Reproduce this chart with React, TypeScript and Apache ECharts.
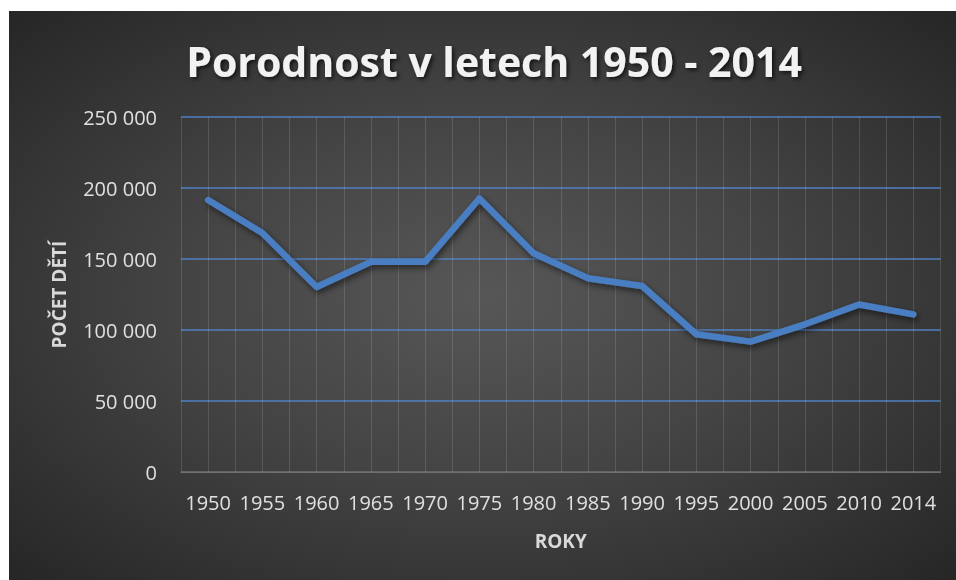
import React, { useEffect, useRef } from "react";
import * as echarts from "echarts";

const years = ["1950", "1955", "1960", "1965", "1970", "1975", "1980", "1985", "1990", "1995", "2000", "2005", "2010", "2014"];
const births = [191500, 168300, 130300, 148000, 148000, 192600, 154000, 136500, 131000, 97000, 91800, 104000, 118000, 111000];
const yTicks = { min: 0, max: 250000, interval: 50000 };
const titleText = "Porodnost v letech 1950 - 2014";
const yName = "POČET DĚTÍ";
const xName = "ROKY";

const FONT = "'Open Sans', 'DejaVu Sans', sans-serif";

export default function App() {
  const ref = useRef<HTMLDivElement>(null);
  useEffect(() => {
    if (!ref.current) return;
    const chart = echarts.init(ref.current, undefined, { renderer: "svg" });
    const halfSteps = years.length * 2;
    chart.setOption({
      animation: false,
      backgroundColor: "transparent",
      title: {
        text: titleText,
        left: 480,
        top: 24,
        textAlign: "center",
        textStyle: {
          fontFamily: FONT,
          fontSize: 41,
          fontWeight: "bold",
          color: "#f2f2f2",
          textShadowColor: "rgba(0,0,0,0.7)",
          textShadowBlur: 4,
          textShadowOffsetX: 2,
          textShadowOffsetY: 2,
        },
      },
      grid: { left: 172, right: 15.5, top: 106, bottom: 108 },
      xAxis: [
        {
          type: "category",
          data: years,
          boundaryGap: true,
          z: 3,
          axisLine: { show: true, lineStyle: { color: "#707070", width: 1 } },
          axisTick: { show: false },
          splitLine: { show: false },
          axisLabel: { color: "#e0e0e0", fontFamily: FONT, fontSize: 20, margin: 20, interval: 0 },
          name: xName,
          nameLocation: "middle",
          nameGap: 59,
          nameTextStyle: { color: "#d9d9d9", fontFamily: FONT, fontSize: 19, fontWeight: "bold" },
        },
        {
          type: "value",
          min: 0,
          max: halfSteps,
          interval: 1,
          position: "bottom",
          axisLine: { show: false },
          axisTick: { show: false },
          axisLabel: { show: false },
          splitLine: { show: true, lineStyle: { color: "rgba(255,255,255,0.13)", width: 1 } },
        },
      ],
      yAxis: {
        type: "value",
        min: yTicks.min,
        max: yTicks.max,
        interval: yTicks.interval,
        axisLine: { show: false },
        axisTick: { show: false },
        axisLabel: {
          color: "#e0e0e0",
          fontFamily: FONT,
          fontSize: 20,
          margin: 24,
          formatter: (v: number) => String(v).replace(/\B(?=(\d{3})+(?!\d))/g, " "),
        },
        splitLine: {
          show: true,
          lineStyle: { color: ["#707070", "#4f7fc0", "#4f7fc0", "#4f7fc0", "#4f7fc0", "#4f7fc0"], width: 1.6 },
        },
        name: yName,
        nameLocation: "middle",
        nameGap: 113,
        nameRotate: 90,
        nameTextStyle: { color: "#d9d9d9", fontFamily: FONT, fontSize: 19, fontWeight: "bold" },
      },
      series: [
        {
          type: "line",
          data: births,
          xAxisIndex: 0,
          yAxisIndex: 0,
          symbol: "none",
          z: 5,
          lineStyle: {
            color: "#4a7ec2",
            width: 6.5,
            cap: "round",
            join: "round",
            shadowColor: "rgba(0,0,0,0.55)",
            shadowBlur: 6,
            shadowOffsetX: 2,
            shadowOffsetY: 3,
          },
        },
      ],
    });
    return () => chart.dispose();
  }, []);
  return (
    <div
      ref={ref}
      style={{
        position: "fixed",
        left: 9,
        top: 11,
        width: 947,
        height: 569,
        background: "radial-gradient(ellipse at 50% 50%, #575757 0%, #444444 45%, #262626 100%)",
      }}
    />
  );
}
